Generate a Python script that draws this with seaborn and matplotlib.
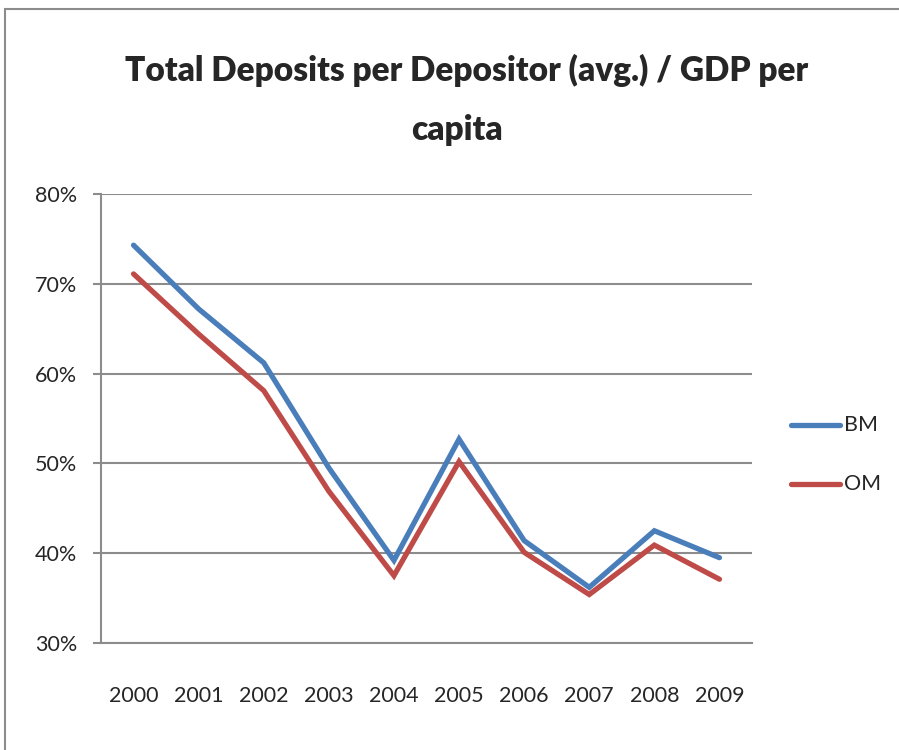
import matplotlib
matplotlib.use("Agg")
import matplotlib.pyplot as plt
from matplotlib.patches import Rectangle
from matplotlib.ticker import FixedLocator, FuncFormatter
import numpy as np
import pandas as pd
import seaborn as sns

years = ["2000", "2001", "2002", "2003", "2004", "2005", "2006", "2007", "2008", "2009"]
bm = [74.3, 67.2, 61.2, 49.5, 39.2, 52.7, 41.4, 36.2, 42.5, 39.5]
om = [71.1, 64.4, 58.1, 46.9, 37.5, 50.2, 40.1, 35.4, 40.9, 37.1]
series = ["BM", "OM"]
colors = {"BM": "#4A7EBB", "OM": "#BE4B48"}

df = pd.DataFrame({
    "pos": list(range(len(years))) * 2,
    "value": bm + om,
    "series": ["BM"] * len(bm) + ["OM"] * len(om),
})

sns.set_style("white")
plt.rcParams["font.family"] = ["Lato", "DejaVu Sans"]

fig = plt.figure(figsize=(8.99, 7.5), dpi=100)
ax = fig.add_axes([101 / 899, 1 - 643 / 750, (752 - 101) / 899, (643 - 194) / 750])

# chart-area frame
fig.patches.append(Rectangle((5 / 899, -0.1), 1.2, 1 - 9 / 750 + 0.1,
                             transform=fig.transFigure, fill=False,
                             edgecolor="#8C8C8C", linewidth=1.5))

sns.lineplot(data=df, x="pos", y="value", hue="series", hue_order=series,
             palette=colors, linewidth=3.8, ax=ax, legend=False,
             solid_capstyle="round", solid_joinstyle="miter")

ax.set_xlim(-0.5, len(years) - 0.5)
ax.set_ylim(30, 80)
ax.set_xlabel("")
ax.set_ylabel("")

ax.yaxis.set_major_locator(FixedLocator([30, 40, 50, 60, 70, 80]))
ax.yaxis.set_major_formatter(FuncFormatter(lambda v, p: f"{v:.0f}%"))
ax.grid(axis="y", color="#8C8C8C", linewidth=1.5)
ax.set_axisbelow(True)

ax.set_xticks(range(len(years)))
ax.set_xticklabels(years)
ax.set_xticks(np.arange(-0.5, len(years)), minor=True)
ax.tick_params(axis="x", which="major", length=0, pad=31, labelsize=15.5)
ax.tick_params(axis="x", which="minor", length=8, width=1.5, color="#8C8C8C", direction="out")
ax.tick_params(axis="y", which="major", length=6, width=1.5, color="#8C8C8C",
               direction="out", labelsize=15.5, pad=11, left=True)

for s in ["top", "right"]:
    ax.spines[s].set_visible(False)
for s in ["left", "bottom"]:
    ax.spines[s].set_color("#8C8C8C")
    ax.spines[s].set_linewidth(1.5)

fig.text(467 / 899, 1 - 70 / 750, "Total Deposits per Depositor (avg.) / GDP per",
         ha="center", va="center", fontsize=24, fontweight="heavy")
fig.text(457 / 899, 1 - 130 / 750, "capita",
         ha="center", va="center", fontsize=24, fontweight="heavy")

# legend
for name, ly in zip(series, [425, 484]):
    fig.add_artist(plt.Line2D([791 / 899, 840 / 899], [1 - ly / 750, 1 - ly / 750],
                              transform=fig.transFigure, color=colors[name],
                              linewidth=3.8, solid_capstyle="round"))
    fig.text(844 / 899, 1 - ly / 750, name, ha="left", va="center", fontsize=15.5)

fig.savefig("out.png", dpi=100, facecolor="white")
